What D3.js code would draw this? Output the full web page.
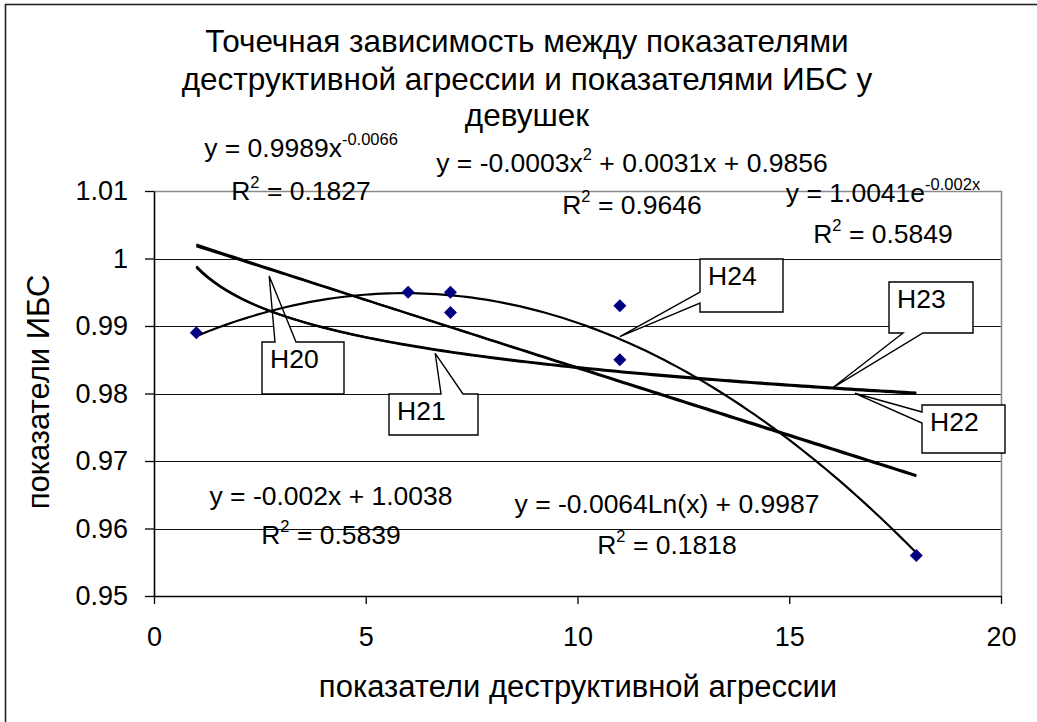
<!DOCTYPE html>
<html>
<head>
<meta charset="utf-8">
<script src="https://cdn.jsdelivr.net/npm/d3@7"></script>
<style>
  html, body { margin: 0; padding: 0; background: #fff; }
  svg { display: block; font-family: "Liberation Sans", Arial, sans-serif; }
</style>
</head>
<body>
<svg id="chart" width="1037" height="722"></svg>
<script>
// data
const xValues = [1, 6, 7, 7, 11, 11, 18];
const yValues = [0.989, 0.995, 0.995, 0.992, 0.993, 0.985, 0.956];
const xTicks = [0, 5, 10, 15, 20];
const yTicks = [0.95, 0.96, 0.97, 0.98, 0.99, 1.0, 1.01];
const yTickLabels = ['0.95', '0.96', '0.97', '0.98', '0.99', '1', '1.01'];
const titleLines = [
  'Точечная зависимость между показателями',
  'деструктивной агрессии и показателями ИБС у',
  'девушек',
];
const xTitle = 'показатели деструктивной агрессии';
const yTitle = 'показатели ИБС';
const trendTypes = ['linear', 'log', 'power', 'exp', 'poly'];
// equation labels: [text, superscript?]
const eqTexts = {
  power: [['y = 0.9989x', false], ['-0.0066', true]],
  poly: [['y = -0.0003x', false], ['2', true], [' + 0.0031x + 0.9856', false]],
  exp: [['y = 1.0041e', false], ['-0.002x', true]],
  linear: [['y = -0.002x + 1.0038', false]],
  log: [['y = -0.0064Ln(x) + 0.9987', false]],
};
const r2Texts = { power: '0.1827', poly: '0.9646', exp: '0.5849', linear: '0.5839', log: '0.1818' };
const calloutNames = ['H20', 'H21', 'H22', 'H23', 'H24'];
const calloutTargets = [[2.72, 0.9974], [6.64, 0.98596], [16.55, 0.98003], [16.04, 0.98092], [11.0, 0.98842]];

// layout
const W = 1037, H = 722;
const plot = { left: 154, right: 1001, top: 191, bottom: 596 };
const eqPos = {
  power: [301, 157, 200],
  poly: [632, 172, 214],
  exp: [883, 202, 243],
  linear: [331, 505, 544],
  log: [667, 513, 554],
};
// box x, y, w, h, side of wedge, wedge base a, b
const calloutBoxes = [
  [262, 342, 82, 52, 'top', 275, 296],
  [389, 394, 89, 41, 'top', 441, 463],
  [922, 405, 83, 48, 'left', 412, 423],
  [889, 282, 84, 51, 'bottom', 903, 923],
  [700, 259, 83, 53, 'left', 292, 303],
];

const svg = d3.select('#chart');
const x = d3.scaleLinear().domain([0, 20]).range([plot.left, plot.right]);
const y = d3.scaleLinear().domain([0.95, 1.01]).range([plot.bottom, plot.top]);

// outer frame (only top/left fall inside the picture)
svg.append('rect').attr('x', 5.5).attr('y', 4.5).attr('width', W + 20).attr('height', H + 20)
  .attr('fill', '#fff').attr('stroke', '#222').attr('stroke-width', 1.6);

// title
svg.append('g').selectAll('text').data(titleLines).join('text')
  .attr('x', 527).attr('y', (d, i) => [52, 90, 126][i])
  .attr('text-anchor', 'middle').attr('font-size', 31.5).attr('fill', '#000')
  .text((d) => d);

// gridlines
svg.append('g').selectAll('line').data(yTicks.filter((t) => t > 0.95 && t < 1.01)).join('line')
  .attr('x1', plot.left).attr('x2', plot.right)
  .attr('y1', (d) => Math.round(y(d)) + 0.5).attr('y2', (d) => Math.round(y(d)) + 0.5)
  .attr('stroke', '#111').attr('stroke-width', 1.2);

// plot area border top / right
svg.append('path')
  .attr('d', `M${plot.left},${plot.top + 0.5}H${plot.right + 0.5}V${plot.bottom}`)
  .attr('fill', 'none').attr('stroke', '#8a8a8a').attr('stroke-width', 1.6);

// axes
const yAxis = svg.append('g').attr('transform', `translate(${plot.left},0)`)
  .call(d3.axisLeft(y).tickValues(yTicks).tickSizeInner(9).tickSizeOuter(0).tickPadding(17)
    .tickFormat((d, i) => yTickLabels[i]));
const xAxis = svg.append('g').attr('transform', `translate(0,${plot.bottom})`)
  .call(d3.axisBottom(x).tickValues(xTicks).tickSizeInner(8).tickSizeOuter(0).tickPadding(23));
[yAxis, xAxis].forEach((g) => {
  g.select('.domain').attr('stroke', '#000').attr('stroke-width', 1.6);
  g.selectAll('.tick line').attr('stroke', '#000').attr('stroke-width', 1.3);
  g.selectAll('.tick text').attr('font-size', 27).attr('fill', '#000')
    .attr('font-family', '"Liberation Sans", Arial, sans-serif');
});

// axis titles
svg.append('text').attr('x', 578).attr('y', 697).attr('text-anchor', 'middle')
  .attr('font-size', 31).attr('fill', '#000').text(xTitle);
svg.append('text').attr('transform', 'translate(49,392) rotate(-90)').attr('text-anchor', 'middle')
  .attr('font-size', 31).attr('fill', '#000').text(yTitle);

// fits computed from the points, as the spreadsheet does
function linFit(xs, ys) {
  const mx = d3.mean(xs), my = d3.mean(ys);
  const b = d3.sum(xs, (v, i) => (v - mx) * (ys[i] - my)) / d3.sum(xs, (v) => (v - mx) ** 2);
  return [my - b * mx, b];
}
function polyFit2(xs, ys) {
  const S = (k) => d3.sum(xs, (v) => v ** k);
  const T = (k) => d3.sum(xs, (v, i) => v ** k * ys[i]);
  const m = [[S(0), S(1), S(2), T(0)], [S(1), S(2), S(3), T(1)], [S(2), S(3), S(4), T(2)]];
  for (let c = 0; c < 3; c++) {
    for (let r = c + 1; r < 3; r++) {
      const f = m[r][c] / m[c][c];
      for (let k = c; k < 4; k++) m[r][k] -= f * m[c][k];
    }
  }
  const out = [0, 0, 0];
  for (let r = 2; r >= 0; r--) {
    let s = m[r][3];
    for (let k = r + 1; k < 3; k++) s -= m[r][k] * out[k];
    out[r] = s / m[r][r];
  }
  return out;
}
const lnx = xValues.map(Math.log);
const lny = yValues.map(Math.log);
const lin = linFit(xValues, yValues);
const logF = linFit(lnx, yValues);
const powF = linFit(lnx, lny);
const expF = linFit(xValues, lny);
const poly = polyFit2(xValues, yValues);
const models = {
  linear: (v) => lin[0] + lin[1] * v,
  log: (v) => logF[0] + logF[1] * Math.log(v),
  power: (v) => Math.exp(powF[0]) * v ** powF[1],
  exp: (v) => Math.exp(expF[0] + expF[1] * v),
  poly: (v) => poly[0] + poly[1] * v + poly[2] * v * v,
};

// callouts
function calloutPath([bx, by, bw, bh, side, a, b], [tx, ty]) {
  const r = bx + bw, btm = by + bh;
  if (side === 'top') return `M${bx},${by}H${a}L${tx},${ty}L${b},${by}H${r}V${btm}H${bx}Z`;
  if (side === 'bottom') return `M${bx},${by}H${r}V${btm}H${b}L${tx},${ty}L${a},${btm}H${bx}Z`;
  return `M${bx},${by}H${r}V${btm}H${bx}V${b}L${tx},${ty}L${bx},${a}Z`;
}
const callouts = svg.append('g').selectAll('g').data(calloutNames).join('g');
callouts.append('path')
  .attr('d', (d, i) => calloutPath(calloutBoxes[i], [x(calloutTargets[i][0]), y(calloutTargets[i][1])]))
  .attr('fill', '#fff').attr('stroke', '#000').attr('stroke-width', 1.4).attr('stroke-linejoin', 'miter');
callouts.append('text')
  .attr('x', (d, i) => calloutBoxes[i][0] + 8).attr('y', (d, i) => calloutBoxes[i][1] + 25.5)
  .attr('font-size', 26.5).attr('fill', '#000').text((d) => d);

// trendlines
const xs = d3.range(0, 121).map((i) => 1 + (17 * i) / 120);
const line = d3.line().x((d) => x(d[0])).y((d) => y(d[1]));
svg.append('g').selectAll('path').data(trendTypes).join('path')
  .attr('d', (t) => line(xs.map((v) => [v, models[t](v)])))
  .attr('fill', 'none').attr('stroke', '#000').attr('stroke-width', 2.2);

// points
svg.append('g').selectAll('path').data(xValues).join('path')
  .attr('transform', (d, i) => `translate(${x(d)},${y(yValues[i])}) rotate(45)`)
  .attr('d', d3.symbol(d3.symbolSquare, 85))
  .attr('fill', '#000080');

// equation labels
function richText(g, cx, cy, segs) {
  const t = g.append('text').attr('x', cx).attr('y', cy).attr('text-anchor', 'middle')
    .attr('font-size', 26.5).attr('fill', '#000');
  let up = false;
  segs.forEach(([s, sup]) => {
    const span = t.append('tspan').text(s);
    if (sup && !up) span.attr('dy', -12.5).attr('font-size', 16.5);
    else if (sup) span.attr('font-size', 16.5);
    else if (up) span.attr('dy', 12.5);
    up = sup;
  });
  return t;
}
const eqG = svg.append('g');
trendTypes.forEach((t) => {
  const [cx, y1, y2] = eqPos[t];
  richText(eqG, cx, y1, eqTexts[t]);
  richText(eqG, cx, y2, [['R', false], ['2', true], [' = ' + r2Texts[t], false]]);
});
</script>
</body>
</html>
